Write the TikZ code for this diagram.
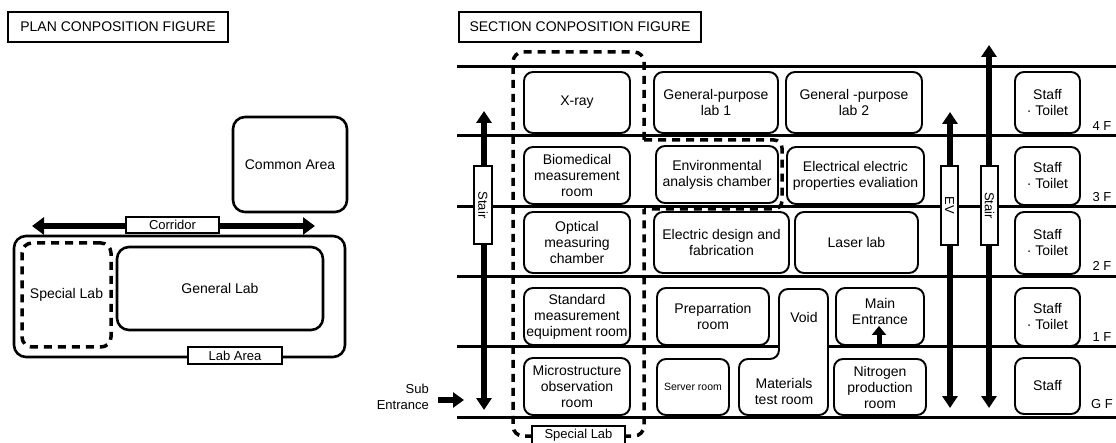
\documentclass[tikz,border=0pt]{standalone}
\usepackage{fontspec}
\setmainfont{Liberation Sans}
\usetikzlibrary{arrows.meta}
\begin{document}
\begin{tikzpicture}[x=1pt,y=-1pt,
  titlebox/.style={draw, line width=1.2pt, fill=white, inner sep=0pt, font=\fontsize{14}{15}\selectfont},
  room/.style={draw, line width=1.9pt, rounded corners=9pt, fill=white, align=center, inner sep=0pt, font=\fontsize{14}{16}\selectfont},
  pbox/.style={draw, line width=2.6pt, rounded corners=12pt, align=center, inner sep=0pt, font=\fontsize{14}{16}\selectfont},
  dashedbox/.style={draw, line width=3.5pt, dash pattern=on 8pt off 6pt, rounded corners=10pt, align=center, inner sep=0pt, font=\fontsize{14}{16}\selectfont},
  tag/.style={draw, line width=1.2pt, fill=white, inner sep=0pt, font=\fontsize{13}{14}\selectfont},
  vtag/.style={draw, line width=1.2pt, fill=white, inner sep=0pt, rotate=-90, font=\fontsize{13}{14}\selectfont},
  floorline/.style={line width=3pt},
  dashline/.style={line width=3.5pt, dash pattern=on 8pt off 6pt, rounded corners=10pt},
  bigarrow/.style={line width=6pt, {Triangle[width=15pt,length=12pt]}-{Triangle[width=15pt,length=12pt]}},
  onearrow/.style={line width=6pt, -{Triangle[width=15pt,length=11pt]}},
  flabel/.style={inner sep=0pt, font=\fontsize{13}{14}\selectfont},
  plain/.style={inner sep=0pt, align=center, font=\fontsize{14}{16}\selectfont}
]
\useasboundingbox (0,0) rectangle (1116,443);

% ================= PLAN =================
\node[titlebox, minimum width=220pt, minimum height=30pt] (plantitle) at (118,27) {PLAN CONPOSITION FIGURE};
\node[pbox, minimum width=114pt, minimum height=95pt] (common) at (290,164.5) {Common Area};
\node[pbox, minimum width=331pt, minimum height=121pt] (labarea) at (179.5,296.5) {};
\node[pbox, minimum width=206pt, minimum height=83pt] (genlab) at (220,288.5) {General Lab};
\node[dashedbox, minimum width=89pt, minimum height=104pt] (speclab) at (66.5,295) {Special Lab};
\coordinate (corrL) at (32,226);
\coordinate (corrR) at (315,226);
\draw[line width=6pt, {Triangle[width=17pt,length=12pt]}-{Triangle[width=17pt,length=12pt]}] (corrL) -- (corrR);
\node[tag, minimum width=93pt, minimum height=16pt] (corr) at (172.5,225) {Corridor};
\node[tag, minimum width=94pt, minimum height=17pt] (labtag) at (235,355.5) {Lab Area};

% ================= SECTION =================
\node[titlebox, minimum width=242pt, minimum height=30pt] (sectitle) at (580,27) {SECTION CONPOSITION FIGURE};

% floor lines
\foreach \yy in {67,136,207,277,347,417}
  \draw[floorline] (457,\yy) -- (1116,\yy);

% floor labels
\node[flabel] (f4) at (1102,126) {4 F};
\node[flabel] (f3) at (1102,197) {3 F};
\node[flabel] (f2) at (1102,266) {2 F};
\node[flabel] (f1) at (1102,337) {1 F};
\node[flabel] (fg) at (1102,404) {G F};

% special lab dashed region
\draw[dashline] (644,140) -- (644,52) -- (513,52) -- (513,436) -- (644,436) -- (644,209);
\draw[dashline, rounded corners=8pt] (644,140) -- (782,140) -- (782,209) -- (644,209);
\node[tag, minimum width=93pt, minimum height=18pt] (sltag) at (578.5,435) {Special Lab};

% column A
\node[room, minimum width=106pt, minimum height=61pt] (xray) at (577,102.5) {X-ray};
\node[room, minimum width=106pt, minimum height=57pt] (bio) at (577,175.5) {Biomedical\\measurement\\room};
\node[room, minimum width=106pt, minimum height=61pt] (opt) at (577,242.5) {Optical\\measuring\\chamber};
\node[room, minimum width=106pt, minimum height=57pt] (std) at (577,316.5) {Standard\\measurement\\equipment room};
\node[room, minimum width=106pt, minimum height=57pt] (micro) at (577,386.5) {Microstructure\\observation\\room};

% column B
\node[room, minimum width=124pt, minimum height=61pt] (gp1) at (716,102.5) {General-purpose\\lab 1};
\node[room, minimum width=122pt, minimum height=57pt] (env) at (717,174.5) {Environmental\\analysis chamber};
\node[room, minimum width=135pt, minimum height=61pt] (edf) at (721.5,242.5) {Electric design and\\fabrication};
\node[room, minimum width=112pt, minimum height=57pt] (prep) at (713,316.5) {Preparration\\room};
\node[room, minimum width=72pt, minimum height=56pt, font=\fontsize{10.5}{12}\selectfont] (server) at (693,387) {Server room};

% void + materials test room
\draw[line width=1.9pt, fill=white, rounded corners=9pt] (779,289) -- (828,289) -- (828,415) -- (739,415) -- (739,359) -- (779,359) -- cycle;
\node[plain] (void) at (804,317) {Void};
\node[plain] (mat) at (784,391) {Materials\\test room};

% column C
\node[room, minimum width=136pt, minimum height=61pt] (gp2) at (854,102.5) {General -purpose\\lab 2};
\node[room, minimum width=137pt, minimum height=57pt] (eep) at (855.5,175.5) {Electrical electric\\properties evaliation};
\node[room, minimum width=123pt, minimum height=61pt] (laser) at (856.5,242.5) {Laser lab};
\node[room, minimum width=88pt, minimum height=57pt] (mainent) at (880,316.5) {};
\node[plain] (mainentlbl) at (880,311) {Main\\Entrance};
\node[room, minimum width=92pt, minimum height=56pt] (nitro) at (880,387) {Nitrogen\\production\\room};
\coordinate (meB) at (879,348);
\coordinate (meT) at (879,326);
\draw[line width=5pt, -{Triangle[width=14pt,length=9pt]}] (meB) -- (meT);

% staff column
\node[room, minimum width=65pt, minimum height=61pt] (st4) at (1047.5,102.5) {Staff\\{\textperiodcentered} Toilet};
\node[room, minimum width=65pt, minimum height=58pt] (st3) at (1047.5,176) {Staff\\{\textperiodcentered} Toilet};
\node[room, minimum width=65pt, minimum height=62pt] (st2) at (1047.5,243) {Staff\\{\textperiodcentered} Toilet};
\node[room, minimum width=65pt, minimum height=58pt] (st1) at (1047.5,317) {Staff\\{\textperiodcentered} Toilet};
\node[room, minimum width=65pt, minimum height=56pt] (stg) at (1047.5,386) {Staff};

% vertical circulation
\coordinate (lsT) at (484,111);
\coordinate (lsB) at (484,410);
\draw[bigarrow] (lsT) -- (lsB);
\node[vtag, minimum width=78pt, minimum height=18pt] (lstair) at (483,205) {Stair};

\coordinate (evT) at (950,112);
\coordinate (evB) at (950,408);
\draw[bigarrow] (evT) -- (evB);
\node[vtag, minimum width=79pt, minimum height=17pt] (ev) at (949.5,205.5) {EV};

\coordinate (rsT) at (989,45);
\coordinate (rsB) at (989,408);
\draw[bigarrow] (rsT) -- (rsB);
\node[vtag, minimum width=79pt, minimum height=17pt] (rstair) at (989.5,205.5) {Stair};

% sub entrance
\node[plain, align=right, anchor=east, font=\fontsize{13}{16}\selectfont] (subent) at (429,397) {Sub\\Entrance};
\coordinate (seL) at (438,400);
\coordinate (seR) at (464,400);
\draw[onearrow] (seL) -- (seR);
\end{tikzpicture}
\end{document}
